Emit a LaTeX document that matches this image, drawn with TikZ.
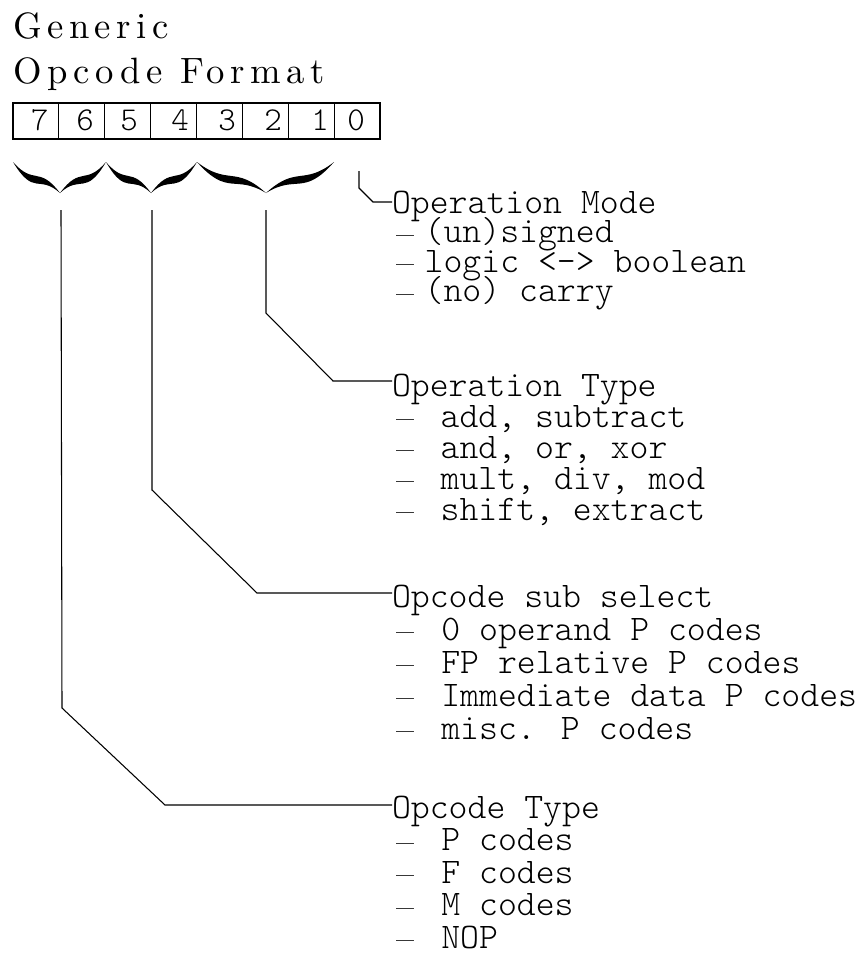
\documentclass[tikz,border=0pt]{standalone}
\usepackage{fontspec}
\newfontfamily\bodyfam{lmmonolt10-regular.otf}
\newfontfamily\dashfam{lmroman10-regular.otf}
\newfontfamily\titlefam{lmroman10-regular.otf}[LetterSpace=15]
\newcommand\mybody{\bodyfam\fontsize{27}{32}\selectfont}
\newcommand\mydigit{\bodyfam\fontsize{25}{30}\selectfont}
\newcommand\mytitle{\titlefam\fontsize{27.5}{33}\selectfont}
\newcommand\dsh[1]{\makebox[#1][l]{\hspace*{3.5pt}\raisebox{-2pt}{\dashfam\textendash}}}
\newcommand\mybrace[3]{%
  \fill (#1,162) .. controls ({#1+0.45*(#2-#1)},186) and ({#2-0.45*(#2-#1)},165) .. (#2,193)
     .. controls ({#2-0.45*(#2-#1)},174) and ({#1+0.45*(#2-#1)},197) .. cycle;
  \fill (#2,193) .. controls ({#2+0.45*(#3-#2)},165) and ({#3-0.45*(#3-#2)},186) .. (#3,162)
     .. controls ({#3-0.45*(#3-#2)},197) and ({#2+0.45*(#3-#2)},174) .. cycle;}
\begin{document}
\begin{tikzpicture}[x=0.75pt,y=-0.75pt,
  lbl/.style={anchor=base west,inner sep=0pt,outer sep=0pt,font=\mybody,text height=15pt,text depth=4pt},
  ttl/.style={anchor=base west,inner sep=0pt,outer sep=0pt,font=\mytitle},
  cell/.style={draw,line width=0.8pt,minimum width=34.4pt,minimum height=27pt,inner sep=0pt,outer sep=0pt,anchor=north west},
  digit/.style={anchor=base,inner sep=0pt,font=\mydigit},
  conn/.style={line width=0.8pt,line join=miter}]
\useasboundingbox (0,0) rectangle (865,961);

% title
\node[ttl] (t1) at (13,38) {Generic};
\node[ttl] (t2) at (13,83) {Opcode Format};

% bit cells
\foreach \b [count=\i from 0] in {7,6,5,4,3,2,1,0}
  \node[cell] (c\b) at ({13+45.875*\i},103) {};
\node[digit] (d7) at (40,130) {7};
\node[digit] (d6) at (85,130) {6};
\node[digit] (d5) at (129,130) {5};
\node[digit] (d4) at (180,130) {4};
\node[digit] (d3) at (227,130) {3};
\node[digit] (d2) at (273,130) {2};
\node[digit] (d1) at (320,130) {1};
\node[digit] (d0) at (356,130) {0};

% braces
\mybrace{13}{60}{106}
\mybrace{106}{151}{197}
\mybrace{197}{266}{334}

% text blocks
\node[lbl] (mode) at (392,213) {Operation Mode};
\node[lbl] (mode1) at (392,242.5) {\dsh{24.5pt}(un)signed};
\node[lbl] (mode2) at (392,272) {\dsh{24.5pt}logic <\textendash> boolean};
\node[lbl] (mode3) at (392,301.5) {\dsh{24.5pt}(no) carry};

\node[lbl] (otype) at (392,396) {Operation Type};
\node[lbl] (otype1) at (392,427) {\dsh{36.5pt}add, subtract};
\node[lbl] (otype2) at (392,458) {\dsh{36.5pt}and, or, xor};
\node[lbl] (otype3) at (392,489) {\dsh{36.5pt}mult, div, mod};
\node[lbl] (otype4) at (392,520) {\dsh{36.5pt}shift, extract};

\node[lbl] (sub) at (392,607) {Opcode sub select};
\node[lbl] (sub1) at (392,640) {\dsh{37pt}0 operand P codes};
\node[lbl] (sub2) at (392,673) {\dsh{37pt}FP relative P codes};
\node[lbl] (sub3) at (392,706) {\dsh{37pt}Immediate data P codes};
\node[lbl] (sub4) at (392,739) {\dsh{37pt}misc. P codes};

\node[lbl] (ctype) at (392,818) {Opcode Type};
\node[lbl] (ctype1) at (392,850.5) {\dsh{37pt}P codes};
\node[lbl] (ctype2) at (392,883) {\dsh{37pt}F codes};
\node[lbl] (ctype3) at (392,915.5) {\dsh{37pt}M codes};
\node[lbl] (ctype4) at (392,948) {\dsh{37pt}NOP};

% connector points
\coordinate (s0) at (359,171);
\coordinate (k0a) at (359,188);
\coordinate (k0b) at (373,202);
\coordinate (s2) at (266,210);
\coordinate (k2a) at (266,313);
\coordinate (k2b) at (333,381);
\coordinate (s5) at (152,210);
\coordinate (k5a) at (152,490);
\coordinate (k5b) at (257,593);
\coordinate (s7) at (61,210);
\coordinate (k7a) at (62,708);
\coordinate (k7b) at (165,805);

\draw[conn] (s0) -- (k0a) -- (k0b) -- (k0b -| mode.west);
\draw[conn] (s2) -- (k2a) -- (k2b) -- (k2b -| otype.west);
\draw[conn] (s5) -- (k5a) -- (k5b) -- (k5b -| sub.west);
\draw[conn] (s7) -- (k7a) -- (k7b) -- (k7b -| ctype.west);
\end{tikzpicture}
\end{document}
